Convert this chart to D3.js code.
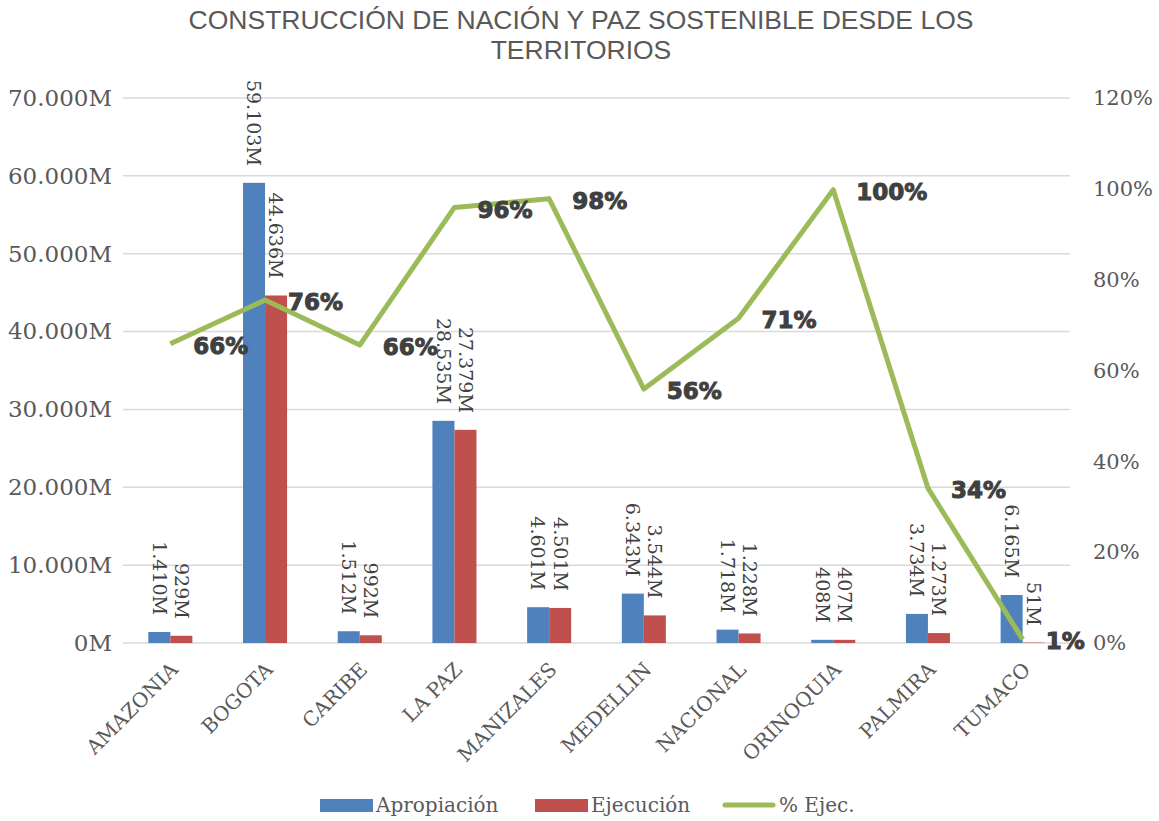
<!DOCTYPE html>
<html>
<head>
<meta charset="utf-8">
<script src="https://cdn.jsdelivr.net/npm/d3@7"></script>
<style>
  body { margin: 0; background: #ffffff; }
  svg { display: block; }
</style>
</head>
<body>
<script>
// datos
var categories = ["AMAZONIA", "BOGOTA", "CARIBE", "LA PAZ", "MANIZALES", "MEDELLIN", "NACIONAL", "ORINOQUIA", "PALMIRA", "TUMACO"];
var apropiacion = [1410, 59103, 1512, 28535, 4601, 6343, 1718, 408, 3734, 6165];
var ejecucion = [929, 44636, 992, 27379, 4501, 3544, 1228, 407, 1273, 51];
var pctEjec = [0.659, 0.755, 0.656, 0.959, 0.978, 0.559, 0.715, 0.998, 0.341, 0.008];
var pctLabels = ["66%", "76%", "66%", "96%", "98%", "56%", "71%", "100%", "34%", "1%"];
var leftTicks = [0, 10000, 20000, 30000, 40000, 50000, 60000, 70000];
var rightTicks = [0, 0.2, 0.4, 0.6, 0.8, 1.0, 1.2];

var width = 1159, height = 821;
var plotLeft = 123, plotRight = 1070, plotTop = 98, plotBottom = 643;
var serif = "'DejaVu Serif', serif";
var grey = "#595959";

var svg = d3.select("body").append("svg").attr("width", width).attr("height", height);

var x0 = d3.scaleBand().domain(categories).range([plotLeft, plotRight]);
var x1 = d3.scaleBand().domain(["a", "e"]).range([0, x0.bandwidth()]).paddingOuter(1.15);
var y = d3.scaleLinear().domain([0, 70000]).range([plotBottom, plotTop]);
var yR = d3.scaleLinear().domain([0, 1.2]).range([plotBottom, plotTop]);

function fmtM(d) {
    return d3.format(",")(d).replace(/,/g, ".") + "M";
}

// titulo
var title = svg.append("text")
    .attr("x", 581).attr("y", 29)
    .attr("text-anchor", "middle")
    .style("font-family", "'Liberation Sans', Arial, sans-serif")
    .style("font-size", "26.5px")
    .style("fill", grey);
title.append("tspan").attr("x", 581).text("CONSTRUCCIÓN DE NACIÓN Y PAZ SOSTENIBLE DESDE LOS");
title.append("tspan").attr("x", 581).attr("dy", 30).text("TERRITORIOS");

// grilla
svg.append("g").selectAll("line").data(leftTicks).enter().append("line")
    .attr("x1", plotLeft).attr("x2", plotRight)
    .attr("y1", function (d) { return y(d); })
    .attr("y2", function (d) { return y(d); })
    .attr("stroke", "#d9d9d9")
    .attr("stroke-width", 1.5);

// eje izquierdo
var axL = svg.append("g").attr("transform", "translate(112,0)")
    .call(d3.axisLeft(y).tickValues(leftTicks).tickSize(0).tickPadding(0).tickFormat(fmtM));
axL.select(".domain").remove();
axL.selectAll("text")
    .style("font-family", serif).style("font-size", "23px").style("fill", grey);

// eje derecho
var axR = svg.append("g").attr("transform", "translate(1093,0)")
    .call(d3.axisRight(yR).tickValues(rightTicks).tickSize(0).tickPadding(0).tickFormat(d3.format(".0%")));
axR.select(".domain").remove();
axR.selectAll("text")
    .style("font-family", serif).style("font-size", "21px").style("fill", grey);

// eje x
svg.append("g").selectAll("text").data(categories).enter().append("text")
    .attr("transform", function (d) {
        return "translate(" + (x0(d) + x0.bandwidth() / 2 - 1) + ",661) rotate(-45)";
    })
    .attr("text-anchor", "end")
    .attr("dy", "0.7em")
    .style("font-family", serif).style("font-size", "20px").style("fill", grey)
    .text(function (d) { return d; });

// barras
var groups = svg.append("g").selectAll("g").data(categories).enter().append("g")
    .attr("transform", function (d) { return "translate(" + x0(d) + ",0)"; });

groups.append("rect")
    .attr("x", x1("a"))
    .attr("width", x1.bandwidth())
    .attr("y", function (d, i) { return y(apropiacion[i]); })
    .attr("height", function (d, i) { return plotBottom - y(apropiacion[i]); })
    .attr("fill", "#4f81bd");

groups.append("rect")
    .attr("x", x1("e"))
    .attr("width", x1.bandwidth())
    .attr("y", function (d, i) { return y(ejecucion[i]); })
    .attr("height", function (d, i) { return plotBottom - y(ejecucion[i]); })
    .attr("fill", "#c0504d");

function barLabel(sel, key, vals) {
    sel.append("text")
        .attr("transform", function (d, i) {
            return "translate(" + (x1(key) + x1.bandwidth() / 2) + "," + (y(vals[i]) - 17) + ") rotate(90)";
        })
        .attr("text-anchor", "end")
        .attr("dy", "0.35em")
        .style("font-family", serif).style("font-size", "19px").style("fill", "#404040")
        .text(function (d, i) { return fmtM(vals[i]); });
}
barLabel(groups, "a", apropiacion);
barLabel(groups, "e", ejecucion);

// linea % ejecucion
var cx = function (i) { return x0(categories[i]) + x0.bandwidth() / 2; };
var line = d3.line()
    .x(function (d, i) { return cx(i); })
    .y(function (d) { return yR(d); });

svg.append("path")
    .datum(pctEjec)
    .attr("d", line)
    .attr("fill", "none")
    .attr("stroke", "#9bbb59")
    .attr("stroke-width", 5)
    .attr("stroke-linejoin", "round");

svg.append("g").selectAll("text").data(pctEjec).enter().append("text")
    .attr("x", function (d, i) { return cx(i) + 23; })
    .attr("y", function (d) { return yR(d) + 2; })
    .attr("dy", "0.35em")
    .style("font-family", "'DejaVu Sans', sans-serif")
    .style("font-weight", "bold")
    .style("font-size", "23px")
    .style("fill", "#404040")
    .style("stroke", "#404040")
    .style("stroke-width", 1)
    .text(function (d, i) { return pctLabels[i]; });

// leyenda
var legendItems = [
    { name: "Apropiación", color: "#4f81bd", type: "rect", x: 320 },
    { name: "Ejecución", color: "#c0504d", type: "rect", x: 535 },
    { name: "% Ejec.", color: "#9bbb59", type: "line", x: 723 }
];
var lg = svg.append("g").selectAll("g").data(legendItems).enter().append("g")
    .attr("transform", function (d) { return "translate(" + d.x + ",805)"; });
lg.filter(function (d) { return d.type === "rect"; }).append("rect")
    .attr("x", 0).attr("y", -6).attr("width", 53).attr("height", 13)
    .attr("fill", function (d) { return d.color; });
lg.filter(function (d) { return d.type === "line"; }).append("line")
    .attr("x1", 2).attr("x2", 50).attr("y1", 0).attr("y2", 0)
    .attr("stroke", function (d) { return d.color; })
    .attr("stroke-width", 5)
    .attr("stroke-linecap", "round");
lg.append("text")
    .attr("x", 56).attr("dy", "0.35em")
    .style("font-family", serif).style("font-size", "20px").style("fill", grey)
    .text(function (d) { return d.name; });
</script>
</body>
</html>
